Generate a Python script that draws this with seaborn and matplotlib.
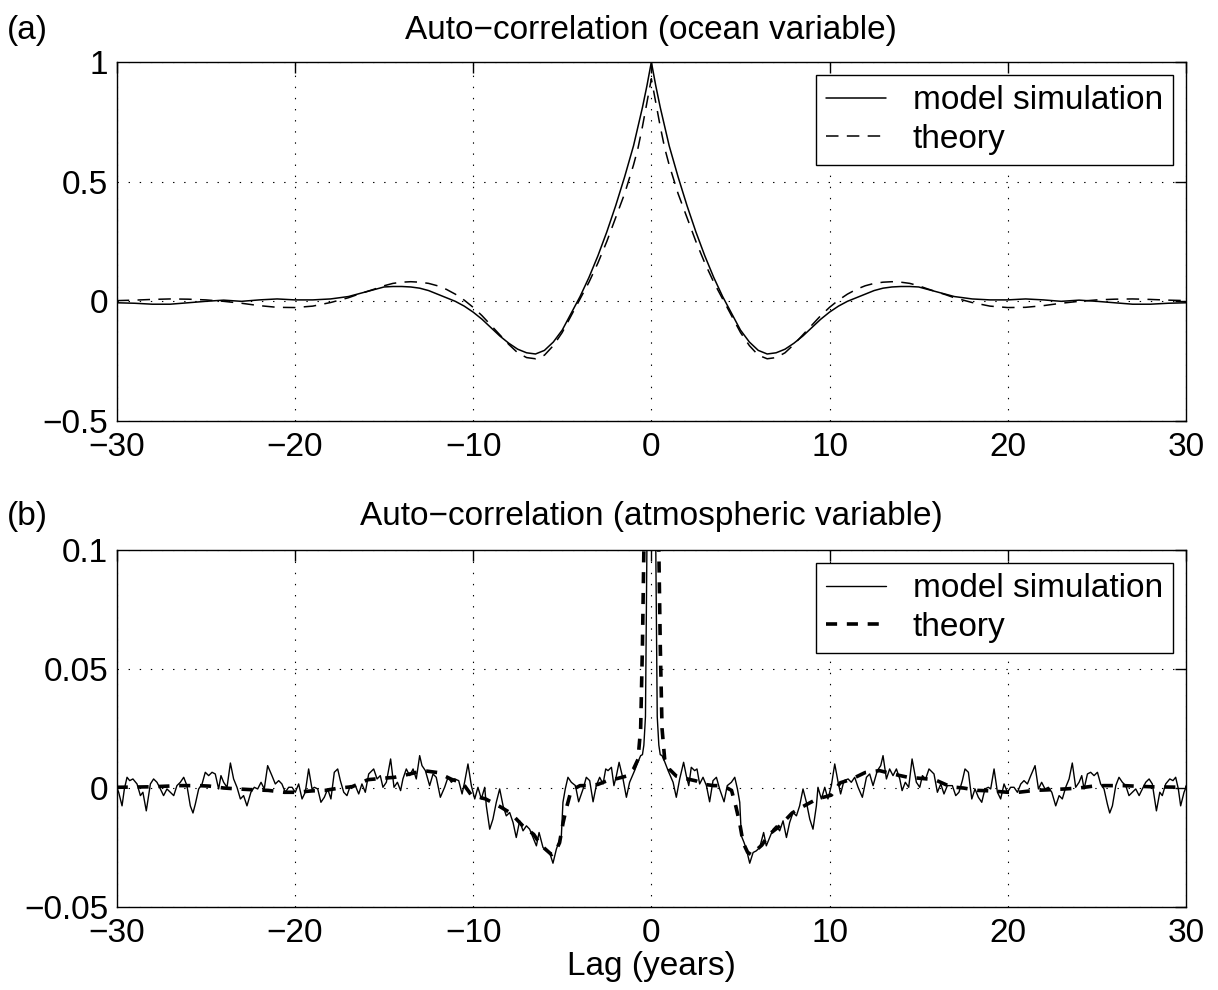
import numpy as np
import pandas as pd
import matplotlib
matplotlib.use("Agg")
import matplotlib.pyplot as plt
import seaborn as sns

# ---------------- data (positive lags; autocorrelation is symmetric) ----------------
lag_a = [0, 0.25, 0.5, 0.75, 1, 1.5, 2, 2.5, 3, 3.5,
         4, 4.5, 5, 5.5, 6, 6.5, 7, 7.5, 8, 8.5,
         9, 9.5, 10, 10.5, 11, 11.5, 12, 12.5, 13, 13.5,
         14, 14.5, 15, 15.5, 16, 16.5, 17, 18, 19, 20,
         21, 22, 23, 24, 25, 26, 27, 28, 29, 30]
ocean_model = [1.0, 0.90, 0.81, 0.73, 0.65, 0.52, 0.40, 0.29, 0.19, 0.10,
               0.02, -0.05, -0.12, -0.17, -0.205, -0.22, -0.215, -0.20, -0.175, -0.145,
               -0.11, -0.075, -0.045, -0.02, 0.0, 0.015, 0.03, 0.045, 0.055, 0.06,
               0.062, 0.062, 0.06, 0.05, 0.04, 0.03, 0.02, 0.01, 0.006, 0.006,
               0.01, 0.006, 0.0, 0.005, 0.0, -0.006, -0.012, -0.012, -0.008, -0.006]
ocean_theory = [0.93, 0.83, 0.73, 0.64, 0.57, 0.45, 0.35, 0.25, 0.16, 0.08,
                0.01, -0.06, -0.13, -0.185, -0.225, -0.24, -0.235, -0.215, -0.18, -0.14,
                -0.10, -0.06, -0.025, 0.005, 0.03, 0.05, 0.065, 0.075, 0.08, 0.082,
                0.08, 0.075, 0.065, 0.052, 0.04, 0.028, 0.015, -0.005, -0.02, -0.026,
                -0.025, -0.018, -0.008, 0.0, 0.006, 0.009, 0.01, 0.008, 0.005, 0.003]

lag_b_model = [0, 0.083, 0.167, 0.25, 0.33, 0.42, 0.5, 0.6, 0.75, 0.94,
               1.22, 1.40, 1.59, 1.81, 1.96, 2.10, 2.24, 2.43, 2.56, 2.71,
               2.90, 3.09, 3.27, 3.46, 3.65, 3.83, 4.08, 4.26, 4.49, 4.68,
               4.83, 4.96, 5.05, 5.20, 5.33, 5.52, 5.71, 5.89, 6.08, 6.30,
               6.45, 6.64, 6.83, 7.01, 7.20, 7.39, 7.58, 7.76, 7.95, 8.14,
               8.32, 8.51, 8.70, 8.89, 9.07, 9.26, 9.35, 9.54, 9.73, 9.91,
               10.10, 10.29, 10.48, 10.62, 10.81, 11.04, 11.22, 11.41, 11.60, 11.84,
               12.07, 12.25, 12.44, 12.68, 12.87, 13.00, 13.19, 13.37, 13.56, 13.75,
               13.94, 14.07, 14.25, 14.44, 14.63, 14.87, 15.06, 15.21, 15.39, 15.58,
               15.86, 16.05, 16.24, 16.42, 16.61, 16.89, 17.08, 17.26, 17.45, 17.60,
               17.79, 17.98, 18.16, 18.35, 18.54, 18.72, 18.91, 19.04, 19.23, 19.42,
               19.60, 19.79, 19.98, 20.16, 20.35, 20.54, 20.73, 20.91, 21.10, 21.29,
               21.53, 21.72, 21.90, 22.09, 22.28, 22.47, 22.69, 22.88, 23.06, 23.25,
               23.44, 23.62, 23.81, 24.00, 24.15, 24.28, 24.47, 24.65, 24.84, 25.03,
               25.21, 25.40, 25.59, 25.72, 25.87, 26.06, 26.24, 26.43, 26.62, 26.80,
               26.99, 27.18, 27.37, 27.55, 27.74, 27.93, 28.11, 28.34, 28.53, 28.67,
               28.86, 29.09, 29.27, 29.42, 29.57, 29.70, 29.89, 30.0]
atmos_model = [1.0, 0.6, 0.3, 0.1, 0.03, 0.018, 0.014, 0.0136, 0.011, 0.0073,
               0.0024, -0.0039, 0.0038, 0.0108, 0.0052, 0.0010, 0.0087, 0.0073, 0.0080, 0.0017,
               0.0045, 0.0010, -0.0058, 0.0031, 0.0045, -0.0004, -0.0058, 0.0010, 0.0024, 0.0045,
               -0.0004, -0.0060, -0.0201, -0.0229, -0.0257, -0.0316, -0.0271, -0.0264, -0.0250, -0.0187,
               -0.0243, -0.0208, -0.0173, -0.0159, -0.0180, -0.0138, -0.0208, -0.0145, -0.0103, -0.0117,
               -0.0075, -0.0004, -0.0060, -0.0131, -0.0173, -0.0075, 0.0003, -0.0046, 0.0003, -0.0046,
               0.0010, 0.0101, 0.0024, -0.0025, 0.0031, 0.0038, 0.0024, 0.0045, 0.0003, -0.0039,
               0.0045, 0.0059, 0.0010, 0.0073, 0.0094, 0.0136, 0.0038, 0.0080, 0.0052, 0.0080,
               0.0038, -0.0011, 0.0024, 0.0003, 0.0122, 0.0024, 0.0003, 0.0052, 0.0038, 0.0080,
               0.0059, -0.0018, 0.0017, -0.0025, 0.0010, 0.0010, -0.0032, -0.0018, 0.0031, 0.0080,
               0.0066, -0.0046, -0.0004, -0.0039, -0.0060, -0.0004, 0.0003, -0.0004, 0.0080, -0.0018,
               -0.0046, 0.0017, -0.0018, 0.0003, 0.0003, -0.0018, 0.0017, 0.0031, 0.0017, 0.0052,
               0.0094, -0.0004, 0.0024, -0.0004, 0.0003, -0.0018, -0.0075, -0.0032, -0.0046, 0.0003,
               0.0038, 0.0105, 0.0003, 0.0024, 0.0052, -0.0004, 0.0059, 0.0066, 0.0052, 0.0066,
               0.0017, -0.0004, -0.0068, -0.0105, -0.0075, 0.0010, 0.0045, 0.0024, 0.0010, -0.0032,
               -0.0018, -0.0004, -0.0032, -0.0004, 0.0024, 0.0038, 0.0017, -0.0096, -0.0018, -0.0032,
               0.0017, 0.0038, 0.0031, 0.0045, -0.0004, -0.0075, -0.0018, 0.0003]

lag_b_theory = [0, 0.2, 0.4, 0.5, 0.6, 0.75, 1.0, 1.4, 1.9, 2.5,
                3.0, 3.5, 4.0, 4.5, 4.75, 4.95, 5.15, 5.4, 5.6, 6.2,
                6.6, 7.2, 7.9, 8.5, 9.3, 10.1, 10.6, 11.2, 12.0, 12.8,
                13.6, 14.4, 15.2, 15.9, 16.8, 17.5, 18.3, 19.0, 20.0, 20.6,
                21.5, 22.2, 23.2, 24.0, 24.8, 25.4, 26.5, 27.1, 28.1, 29.0,
                30.0]
atmos_theory = [1.0, 0.35, 0.11, 0.06, 0.025, 0.012, 0.008, 0.005, 0.004, 0.003,
                0.0015, 0.001, 0.001, -0.001, -0.008, -0.0145, -0.023, -0.027, -0.028, -0.024,
                -0.0195, -0.016, -0.0105, -0.0078, -0.0046, -0.003, 0.0022, 0.0036, 0.0065, 0.0073,
                0.0058, 0.0045, 0.004, 0.0035, 0.0005, 0.0, -0.001, -0.0012, -0.0018, -0.0018,
                -0.001, -0.0008, -0.0004, 0.0, 0.0008, 0.001, 0.001, 0.0008, 0.0005, 0.0004,
                0.0003]

xticks = [-30, -20, -10, 0, 10, 20, 30]
xticklabels = ["\u221230", "\u221220", "\u221210", "0", "10", "20", "30"]
yticks_a = [-0.5, 0, 0.5, 1]
yticklabels_a = ["\u22120.5", "0", "0.5", "1"]
yticks_b = [-0.05, 0, 0.05, 0.1]
yticklabels_b = ["\u22120.05", "0", "0.05", "0.1"]
titles = ["Auto\u2212correlation (ocean variable)", "Auto\u2212correlation (atmospheric variable)"]
panel_tags = ["(a)", "(b)"]
series_names = ["model simulation", "theory"]


def mirrored(lags, vals):
    lags = np.asarray(lags, float)
    vals = np.asarray(vals, float)
    return np.r_[-lags[:0:-1], lags], np.r_[vals[:0:-1], vals]


# ---------------- style ----------------
sns.set_theme(style="white")
plt.rcParams["font.family"] = ["Liberation Sans", "DejaVu Sans"]
plt.rcParams["lines.scale_dashes"] = False
for key in ["text.color", "axes.labelcolor", "xtick.color", "ytick.color", "axes.edgecolor"]:
    plt.rcParams[key] = "black"
FS = 24

W, H = 1218, 990
fig = plt.figure(figsize=(W / 100, H / 100), dpi=100)
x0, x1 = 116.7, 1186
ax_a = fig.add_axes([x0 / W, 1 - 421 / H, (x1 - x0) / W, (421 - 62) / H])
ax_b = fig.add_axes([x0 / W, 1 - 907 / H, (x1 - x0) / W, (907 - 550) / H])

# panel a
xa, ya_m = mirrored(lag_a, ocean_model)
_, ya_t = mirrored(lag_a, ocean_theory)
df_am = pd.DataFrame({"lag": xa, "r": ya_m})
df_at = pd.DataFrame({"lag": xa, "r": ya_t})
sns.lineplot(data=df_am, x="lag", y="r", ax=ax_a, color="black", lw=1.1,
             estimator=None, sort=False, label=series_names[0])
sns.lineplot(data=df_at, x="lag", y="r", ax=ax_a, color="black", lw=1.1,
             estimator=None, sort=False, label=series_names[1], linestyle=(0, (9, 6)))

# panel b
xbm, ybm = mirrored(lag_b_model, atmos_model)
xbt, ybt = mirrored(lag_b_theory, atmos_theory)
df_bm = pd.DataFrame({"lag": xbm, "r": ybm})
df_bt = pd.DataFrame({"lag": xbt, "r": ybt})
sns.lineplot(data=df_bm, x="lag", y="r", ax=ax_b, color="black", lw=1.0,
             estimator=None, sort=False, label=series_names[0])
sns.lineplot(data=df_bt, x="lag", y="r", ax=ax_b, color="black", lw=2.6,
             estimator=None, sort=False, label=series_names[1], linestyle=(0, (8, 7)))

for ax, yt, ytl, ylim in [(ax_a, yticks_a, yticklabels_a, (-0.5, 1)),
                          (ax_b, yticks_b, yticklabels_b, (-0.05, 0.1))]:
    ax.set_xlim(-30, 30)
    ax.set_ylim(*ylim)
    ax.set_xticks(xticks)
    ax.set_xticklabels(xticklabels)
    ax.set_yticks(yt)
    ax.set_yticklabels(ytl)
    ax.set_xlabel("")
    ax.set_ylabel("")
    ax.grid(True, color="black", linestyle=(0, (1, 7)), linewidth=0.8)
    ax.tick_params(direction="in", top=True, right=True, length=8, width=1.0,
                   labelsize=FS, colors="black")
    ax.tick_params(axis="x", pad=8)
    ax.tick_params(axis="y", pad=6)
    for s in ax.spines.values():
        s.set_color("black")
        s.set_linewidth(1.0)
    leg = ax.legend(loc="upper right", fontsize=FS, frameon=True, fancybox=False,
                    edgecolor="black", framealpha=1, handlelength=1.8, handletextpad=0.8,
                    borderpad=0.3, labelspacing=0.22, borderaxespad=0.4)
    leg.get_frame().set_linewidth(1.0)

fig.text(651 / W, 1 - 30 / H, titles[0], ha="center", va="center", fontsize=FS)
fig.text(651 / W, 1 - 517 / H, titles[1], ha="center", va="center", fontsize=FS)
fig.text(7 / W, 1 - 30 / H, panel_tags[0], ha="left", va="center", fontsize=FS)
fig.text(7 / W, 1 - 517 / H, panel_tags[1], ha="left", va="center", fontsize=FS)
fig.text(651 / W, 1 - 967 / H, "Lag (years)", ha="center", va="center", fontsize=FS)

fig.savefig("out.png", dpi=100, facecolor="white")
